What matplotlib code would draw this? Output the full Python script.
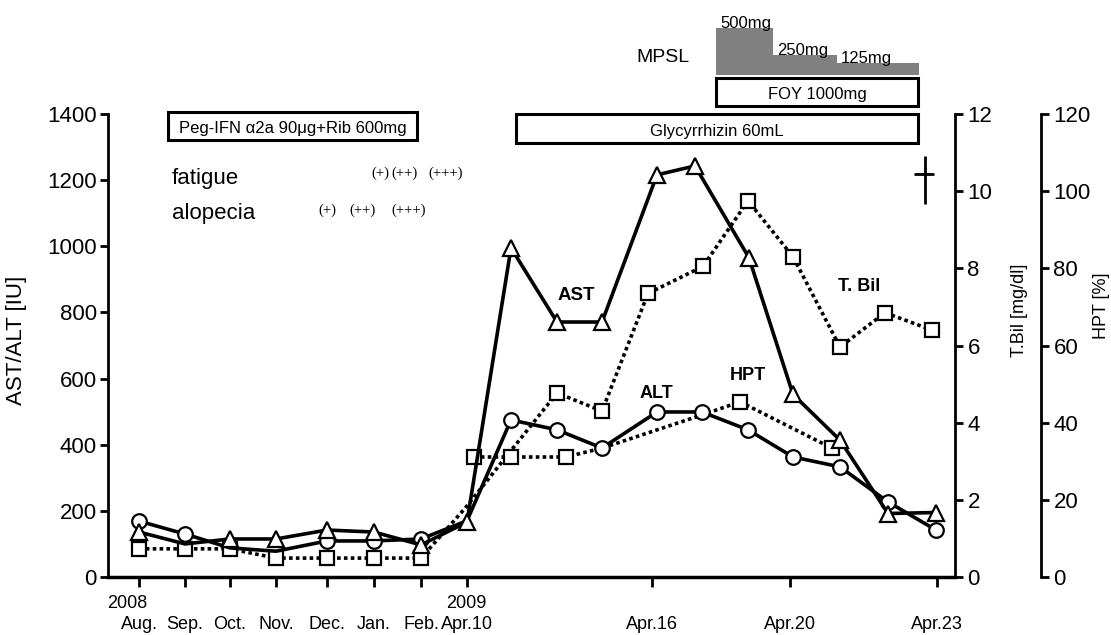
import numpy as np
import matplotlib
matplotlib.use('Agg')
import matplotlib.pyplot as plt
from matplotlib.patches import Rectangle

plt.rcParams['font.family'] = ['Liberation Sans', 'DejaVu Sans']

# ---- data (x = position on the time axis) ----
tick_pos = [139, 185, 230, 276, 327, 374, 421, 467, 652, 790, 937]
tick_lab = ['Aug.', 'Sep.', 'Oct.', 'Nov.', 'Dec.', 'Jan.', 'Feb.',
            'Apr.10', 'Apr.16', 'Apr.20', 'Apr.23']
years = ['2008', '2009']
year_pos = [127, 466]

ast_x = [139, 185, 230, 276, 327, 374, 421, 467, 511, 557, 602, 657, 695, 749, 793, 840, 888, 936]
ast = [136, 100, 115, 115, 142, 136, 97, 166, 995, 771, 771, 1216, 1243, 965, 552, 414, 192, 195]
ast_hidden = [1]

alt_x = [139, 185, 230, 276, 327, 374, 421, 467, 511, 557, 602, 657, 702, 748, 793, 840, 888, 936]
alt = [169, 130, 88, 78, 109, 109, 115, 170, 475, 445, 390, 499, 499, 445, 363, 333, 227, 142]
alt_hidden = [2, 3, 7]

tbil_x = [139, 185, 230, 276, 327, 374, 421, 465, 557, 602, 648, 703, 748, 793, 840, 885, 932]
tbil = [0.73, 0.73, 0.73, 0.49, 0.49, 0.49, 0.49, 1.78, 4.77, 4.3, 7.35, 8.05, 9.75, 8.3, 5.96, 6.85, 6.4]
tbil_hidden = [7]

hpt_x = [474, 511, 566, 602, 702, 740, 832]
hpt = [31.1, 31.1, 31.1, 33.4, 42, 45.4, 33.4]
hpt_hidden = [3, 4]

# treatments: label, start, end
tx_boxes = [('Peg-IFN α2a 90μg+Rib 600mg', 168, 417, 1321, 1406),
            ('Glycyrrhizin 60mL', 516, 918, 1312, 1400),
            ('FOY 1000mg', 716, 918, 1424, 1509)]
mpsl_edges = [716, 773, 837, 919]
mpsl_top = [1660, 1578, 1554]
mpsl_dose = ['500mg', '250mg', '125mg']

fatigue_pos = [380, 404, 446]
fatigue_grade = ['(+)', '(++)', '(+++)']
alopecia_pos = [327, 363, 409]
alopecia_grade = ['(+)', '(++)', '(+++)']

death_x, death_y = 925, 1200


def shown(n, hidden):
    return [i for i in range(n) if i not in hidden]


fig = plt.figure(figsize=(11.11, 6.35), dpi=100)
ax = fig.add_axes([108/1111, 1-577/635, 847/1111, 463/635])
ax2 = ax.twinx()
ax3 = ax.twinx()
ax.set_zorder(3)
ax.patch.set_visible(False)

# left axis
ax.set_xlim(108, 955)
ax.set_ylim(0, 1400)
for s in ['top', 'right']:
    ax.spines[s].set_visible(False)
ax.spines['left'].set_linewidth(2)
ax.spines['bottom'].set_linewidth(2.5)
ax.set_yticks(np.arange(0, 1401, 200))
ax.tick_params(axis='y', direction='out', length=6, width=2, labelsize=16, pad=2)
ax.set_xticks(tick_pos, tick_lab)
ax.tick_params(axis='x', direction='out', length=7, width=2, labelsize=13, pad=21)
ax.set_ylabel('AST/ALT [IU]', fontsize=16)
ax.yaxis.set_label_coords(-0.0956, 0.51)

for lab, xp in zip(years, year_pos):
    ax.text(xp, -0.058, lab, transform=ax.get_xaxis_transform(),
            ha='center', va='center', fontsize=13)

# T.Bil axis
ax2.set_ylim(0, 12)
ax2.set_yticks(np.arange(0, 13, 2))
for s in ['top', 'left', 'bottom']:
    ax2.spines[s].set_visible(False)
ax2.spines['right'].set_linewidth(2)
ax2.tick_params(axis='y', direction='out', length=6, width=2, labelsize=16, pad=3)
ax2.set_ylabel('T.Bil [mg/dl]', fontsize=13)
ax2.yaxis.set_label_coords(1.066, 0.577)

# HPT axis
ax3.set_ylim(0, 120)
ax3.set_yticks(np.arange(0, 121, 20))
ax3.spines['right'].set_position(('axes', 1 + 86/847))
for s in ['top', 'left', 'bottom']:
    ax3.spines[s].set_visible(False)
ax3.spines['right'].set_linewidth(2)
ax3.tick_params(axis='y', direction='out', length=6, width=2, labelsize=16, pad=3)
ax3.set_ylabel('HPT [%]', fontsize=13)
ax3.yaxis.set_label_coords(1.163, 0.585)

# series
dot = (0, (1, 0.9))
ax3.plot(hpt_x, hpt, color='black', lw=2.6, ls=dot, marker='s', ms=10.5,
         mfc='white', mec='black', mew=1.6, markevery=shown(len(hpt), hpt_hidden))
ax2.plot(tbil_x, tbil, color='black', lw=2.6, ls=dot, marker='s', ms=10.5,
         mfc='white', mec='black', mew=1.6, markevery=shown(len(tbil), tbil_hidden))
ax.plot(alt_x, alt, color='black', lw=2.6, marker='o', ms=10.5,
        mfc='white', mec='black', mew=1.6, markevery=shown(len(alt), alt_hidden))
ax.plot(ast_x, ast, color='black', lw=2.6, marker='^', ms=11,
        mfc='white', mec='black', mew=1.6, markevery=shown(len(ast), ast_hidden))

# series labels
ax.text(576, 850, 'AST', fontsize=13.5, fontweight='bold', ha='center', va='center')
ax.text(656, 556, 'ALT', fontsize=13, fontweight='bold', ha='center', va='center')
ax.text(748, 608, 'HPT', fontsize=13, fontweight='bold', ha='center', va='center')
ax.text(859, 877, 'T. Bil', fontsize=13, fontweight='bold', ha='center', va='center')

# treatment bars
for lab, x0, x1, y0, y1 in tx_boxes:
    ax.add_patch(Rectangle((x0, y0), x1 - x0, y1 - y0, facecolor='white',
                           edgecolor='black', lw=2.2, clip_on=False, zorder=4))
    ax.text((x0 + x1) / 2, (y0 + y1) / 2 - 8, lab, ha='center', va='center',
            fontsize=12, zorder=5, clip_on=False)

ax.bar(mpsl_edges[:-1], np.array(mpsl_top) - 1518, width=np.diff(mpsl_edges),
       bottom=1518, align='edge', color='#808080', clip_on=False, zorder=4)
for xe, top, lab in zip(mpsl_edges[:-1], mpsl_top, mpsl_dose):
    ax.text(xe + 4, top, lab, ha='left', va='baseline', fontsize=12,
            clip_on=False, zorder=6)
ax.text(663, 1572, 'MPSL', ha='center', va='center', fontsize=14, clip_on=False)

# symptoms
ax.text(172, 1206, 'fatigue', ha='left', va='center', fontsize=16)
ax.text(172, 1098, 'alopecia', ha='left', va='center', fontsize=16)
for xp, g in zip(fatigue_pos, fatigue_grade):
    ax.text(xp, 1222, g, ha='center', va='center', fontsize=10.5,
            family='Liberation Serif')
for xp, g in zip(alopecia_pos, alopecia_grade):
    ax.text(xp, 1110, g, ha='center', va='center', fontsize=10.5,
            family='Liberation Serif')

# death (cross)
ax.plot(death_x, death_y, marker='|', ms=34, mew=2, color='black', clip_on=False)
ax.plot(death_x - 1, death_y + 18, marker='_', ms=14, mew=2, color='black', clip_on=False)

fig.savefig('out.png', dpi=100)
